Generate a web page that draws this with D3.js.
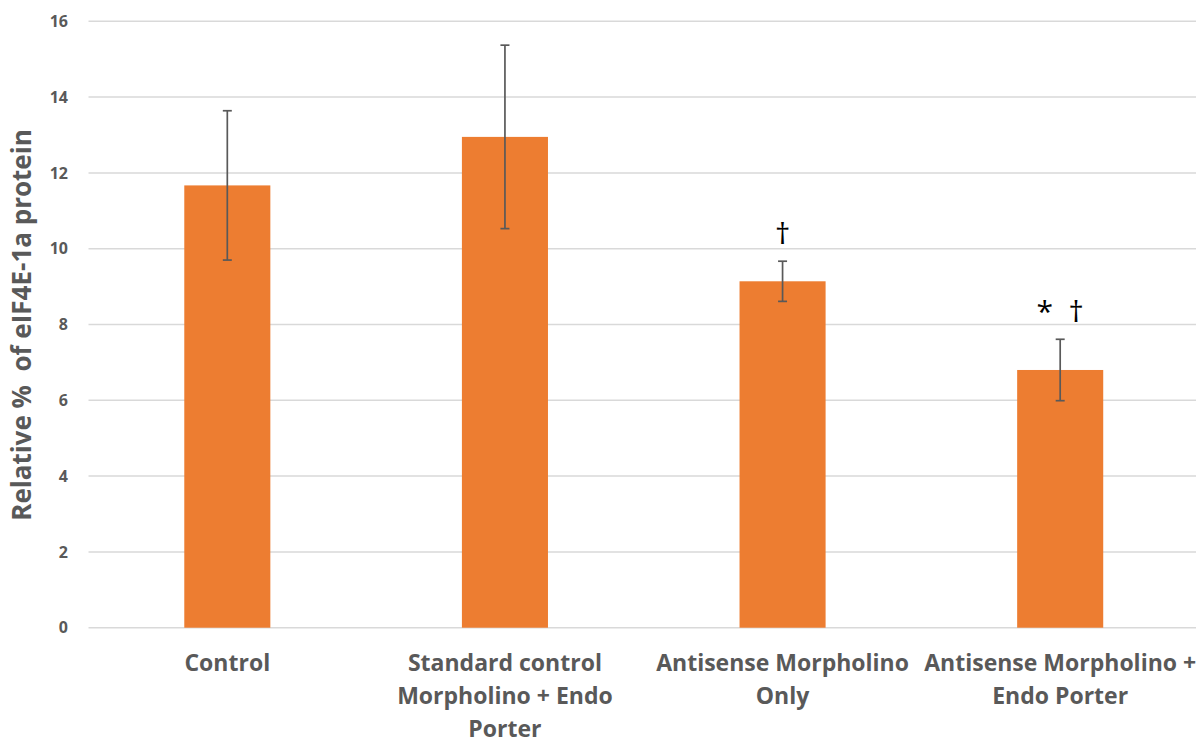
<!DOCTYPE html>
<html>
<head>
<meta charset="utf-8">
<script src="https://cdn.jsdelivr.net/npm/d3@7"></script>
<style>
  html, body { margin: 0; background: #fff; }
  text { font-family: "Open Sans", "Liberation Sans", sans-serif; }
</style>
</head>
<body>
<script>
const categories = [
  ['Control'],
  ['Standard control', 'Morpholino + Endo', 'Porter'],
  ['Antisense Morpholino', 'Only'],
  ['Antisense Morpholino +', 'Endo Porter']
];
const values = [11.67, 12.95, 9.14, 6.8];
const errors = [1.97, 2.42, 0.53, 0.81];
const marks = ['', '', '†', '*  †'];
const yTicks = [0, 2, 4, 6, 8, 10, 12, 14, 16];

const width = 1196;
const height = 740;

const svg = d3.select('body')
  .append('svg')
  .attr('width', width)
  .attr('height', height);

const x = d3.scaleBand()
  .domain(d3.range(values.length))
  .range([88.5, 1199])
  .paddingInner(0.69)
  .paddingOuter(0.345);

const y = d3.scaleLinear().domain([0, 16]).range([627.7, 21.3]);

// gridlines
svg.append('g')
  .selectAll('line')
  .data(yTicks)
  .join('line')
  .attr('x1', 88.5)
  .attr('x2', width)
  .attr('y1', d => y(d))
  .attr('y2', d => y(d))
  .attr('stroke', '#d9d9d9')
  .attr('stroke-width', 1.5);

// y tick labels
svg.append('g')
  .selectAll('text')
  .data(yTicks)
  .join('text')
  .attr('x', 68)
  .attr('y', d => y(d))
  .attr('dy', '0.35em')
  .attr('text-anchor', 'end')
  .attr('fill', '#595959')
  .attr('font-weight', 'bold')
  .attr('font-size', 16)
  .text(d => d);

// y title
svg.append('text')
  .attr('transform', `translate(31,${(128 + 522) / 2}) rotate(-90)`)
  .attr('text-anchor', 'middle')
  .attr('fill', '#595959')
  .attr('font-weight', 'bold')
  .attr('font-size', 26)
  .attr('xml:space', 'preserve')
  .text('Relative %  of eIF4E-1a protein');

// bars
svg.append('g')
  .selectAll('rect')
  .data(values)
  .join('rect')
  .attr('x', (d, i) => x(i))
  .attr('width', x.bandwidth())
  .attr('y', d => y(d))
  .attr('height', d => y(0) - y(d))
  .attr('fill', '#ed7d31');

// error bars
const eb = svg.append('g')
  .attr('stroke', '#595959')
  .attr('stroke-width', 1.7)
  .selectAll('g')
  .data(values)
  .join('g')
  .attr('transform', (d, i) => `translate(${x(i) + x.bandwidth() / 2},0)`);

eb.append('line')
  .attr('y1', (d, i) => y(d + errors[i]))
  .attr('y2', (d, i) => y(d - errors[i]));
eb.append('line')
  .attr('x1', -4.5).attr('x2', 4.5)
  .attr('y1', (d, i) => y(d + errors[i]))
  .attr('y2', (d, i) => y(d + errors[i]));
eb.append('line')
  .attr('x1', -4.5).attr('x2', 4.5)
  .attr('y1', (d, i) => y(d - errors[i]))
  .attr('y2', (d, i) => y(d - errors[i]));

// significance marks
svg.append('g')
  .selectAll('text')
  .data(values)
  .join('text')
  .attr('x', (d, i) => x(i) + x.bandwidth() / 2)
  .attr('y', (d, i) => y(d + errors[i]) - 17)
  .attr('text-anchor', 'middle')
  .attr('font-family', 'DejaVu Sans')
  .attr('font-size', 30)
  .attr('fill', '#000')
  .attr('xml:space', 'preserve')
  .text((d, i) => marks[i]);

// category labels
const cat = svg.append('g')
  .selectAll('text')
  .data(categories)
  .join('text')
  .attr('x', (d, i) => x(i) + x.bandwidth() / 2)
  .attr('y', 671)
  .attr('text-anchor', 'middle')
  .attr('fill', '#595959')
  .attr('font-weight', 'bold')
  .attr('font-size', 23);

cat.selectAll('tspan')
  .data(d => d)
  .join('tspan')
  .attr('x', function () { return this.parentNode.getAttribute('x'); })
  .attr('dy', (d, i) => i === 0 ? 0 : 33)
  .text(d => d);
</script>
</body>
</html>
